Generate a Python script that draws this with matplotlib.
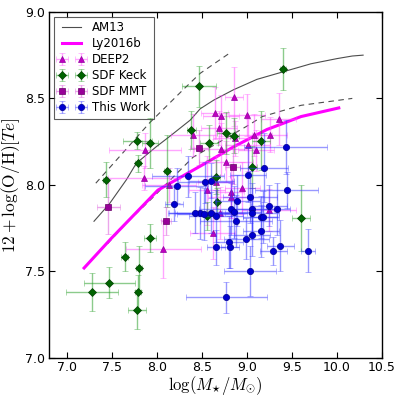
import numpy as np
import matplotlib
matplotlib.use("Agg")
import matplotlib.pyplot as plt

plt.rcParams['mathtext.fontset'] = 'cm'
plt.rcParams['font.family'] = ['DejaVu Sans']

# ---- curves ----
am13_x = [7.30, 7.47, 7.66, 7.77, 7.99, 8.14, 8.37, 8.48, 8.63, 8.85, 9.11, 9.41, 9.71, 10.0, 10.17, 10.29]
am13_y = [7.79, 7.89, 8.03, 8.125, 8.22, 8.28, 8.375, 8.44, 8.49, 8.55, 8.61, 8.655, 8.70, 8.73, 8.745, 8.75]
am13_up_x = [7.32, 7.92, 8.29, 8.48, 8.83]
am13_up_y = [8.01, 8.36, 8.55, 8.645, 8.77]
am13_lo_x = [7.45, 7.66, 7.92, 8.40, 9.0, 9.17, 9.60, 10.17]
am13_lo_y = [7.66, 7.78, 7.91, 8.16, 8.34, 8.395, 8.46, 8.50]
ly_x = [7.19, 7.49, 8.01, 8.57, 8.85, 9.22, 9.60, 10.02]
ly_y = [7.52, 7.69, 7.97, 8.135, 8.22, 8.32, 8.395, 8.445]

# ---- DEEP2 ----
deep2_x = [7.87, 7.85, 8.13, 8.07, 8.64, 8.71, 8.40, 8.69, 8.62, 8.86, 9.00, 9.35, 8.87, 9.08,
           9.25, 8.71, 9.01, 9.10, 8.77, 8.56, 8.82, 8.82, 8.95, 9.24, 8.70, 8.66]
deep2_y = [8.20, 8.04, 8.00, 7.63, 8.415, 8.40, 8.29, 8.33, 7.72, 8.51, 8.405, 8.38, 8.27, 8.29,
           8.29, 8.21, 8.23, 8.20, 8.135, 7.97, 7.96, 7.93, 7.98, 7.855, 7.84, 8.015]
deep2_xerr = [0.40, 0.40, 0.30, 0.42, 0.15, 0.20, 0.25, 0.20, 0.25, 0.10, 0.20, 0.20, 0.25, 0.20,
              0.20, 0.30, 0.25, 0.20, 0.30, 0.20, 0.15, 0.25, 0.20, 0.30, 0.25, 0.20]
deep2_yerr = [0.10, 0.07, 0.10, 0.17, 0.15, 0.12, 0.12, 0.10, 0.15, 0.17, 0.12, 0.15, 0.10, 0.12,
              0.10, 0.15, 0.15, 0.12, 0.12, 0.20, 0.15, 0.12, 0.15, 0.12, 0.15, 0.15]

# ---- SDF Keck ----
keck_x = [7.28, 7.47, 7.64, 7.80, 7.79, 7.78, 7.92, 7.43, 7.78, 7.92, 7.79, 8.11, 8.38, 8.47,
          8.58, 8.77, 8.86, 8.65, 8.67, 8.56, 9.15, 9.06, 9.60, 9.40]
keck_y = [7.38, 7.435, 7.585, 7.52, 7.38, 7.28, 7.695, 8.03, 8.255, 8.24, 8.125, 8.08, 8.32, 8.57,
          8.245, 8.30, 8.285, 8.045, 7.90, 7.82, 8.255, 8.105, 7.81, 8.67]
keck_xerr = [0.29, 0.28, 0.04, 0.03, 0.03, 0.10, 0.07, 0.03, 0.16, 0.09, 0.03, 0.03, 0.05, 0.19,
             0.10, 0.10, 0.05, 0.05, 0.03, 0.03, 0.10, 0.05, 0.10, 0.03]
keck_yerr = [0.11, 0.09, 0.085, 0.125, 0.10, 0.11, 0.08, 0.10, 0.05, 0.145, 0.05, 0.21, 0.11, 0.12,
             0.10, 0.12, 0.10, 0.10, 0.08, 0.08, 0.17, 0.12, 0.19, 0.12]

# ---- SDF MMT ----
mmt_x = [7.46, 8.10, 8.47, 8.84]
mmt_y = [7.875, 7.79, 8.215, 8.105]
mmt_xerr = [0.13, 0.05, 0.10, 0.08]
mmt_yerr = [0.16, 0.08, 0.10, 0.10]

# ---- This Work ----
tw_x = [8.34, 8.22, 8.19, 8.53, 8.60, 8.48, 8.52, 8.60, 8.65, 9.43, 9.19, 9.01, 9.44, 9.03, 8.89,
        9.24, 9.33, 8.82, 8.85, 9.05, 9.05, 9.15, 9.18, 8.88, 9.06, 9.15, 8.99, 8.80, 8.65, 8.81,
        9.37, 9.29, 9.68, 9.03, 8.77, 8.42]
tw_y = [8.05, 7.995, 7.89, 8.015, 8.025, 7.84, 7.83, 7.84, 7.82, 8.22, 8.10, 8.06, 7.97, 7.93, 7.91,
        7.88, 7.86, 7.86, 7.845, 7.86, 7.835, 7.815, 7.815, 7.79, 7.71, 7.735, 7.69, 7.67, 7.64, 7.64,
        7.65, 7.62, 7.62, 7.505, 7.35, 7.84]
tw_xerr = [0.40, 0.35, 0.10, 0.30, 0.25, 0.35, 0.30, 0.40, 0.30, 0.46, 0.27, 0.20, 0.35, 0.30, 0.25,
           0.20, 0.15, 0.35, 0.30, 0.25, 0.30, 0.20, 0.15, 0.40, 0.20, 0.20, 0.25, 0.15, 0.10, 0.10,
           0.15, 0.15, 0.08, 0.29, 0.45, 0.30]
tw_yerr = [0.12, 0.10, 0.10, 0.12, 0.10, 0.15, 0.15, 0.12, 0.15, 0.155, 0.20, 0.16, 0.106, 0.15, 0.15,
           0.12, 0.15, 0.15, 0.15, 0.15, 0.15, 0.12, 0.15, 0.15, 0.12, 0.15, 0.12, 0.15, 0.10, 0.12,
           0.15, 0.08, 0.125, 0.145, 0.09, 0.12]

fig = plt.figure(figsize=(4.0, 3.96), dpi=100)
ax = fig.add_axes([0.1225, 0.096, 0.8325, 0.874])

ax.plot(am13_x, am13_y, color='0.3', lw=0.8, label='AM13', zorder=3)
ax.plot(am13_up_x, am13_up_y, color='0.3', lw=0.8, ls=(0, (5, 4)), zorder=3)
ax.plot(am13_lo_x, am13_lo_y, color='0.3', lw=0.8, ls=(0, (5, 4)), zorder=3)
ax.plot(ly_x, ly_y, color='#ff00ff', lw=2.2, label='Ly2016b', zorder=4)

common = dict(ls='none', capsize=2.5, elinewidth=1.0, capthick=1.0)
ax.errorbar(deep2_x, deep2_y, xerr=deep2_xerr, yerr=deep2_yerr, fmt='^', ms=4,
            mfc='#c000c0', mec='#9000a0', mew=0.5, ecolor=(1.0, 0.3, 1.0, 0.5),
            label='DEEP2', zorder=5, **common)
ax.errorbar(keck_x, keck_y, xerr=keck_xerr, yerr=keck_yerr, fmt='D', ms=4.5,
            mfc='#006400', mec='#004000', mew=0.5, ecolor=(0.1, 0.6, 0.1, 0.5),
            label='SDF Keck', zorder=6, **common)
ax.errorbar(mmt_x, mmt_y, xerr=mmt_xerr, yerr=mmt_yerr, fmt='s', ms=5,
            mfc='#990099', mec='#660066', mew=0.5, ecolor=(0.85, 0.3, 0.85, 0.5),
            label='SDF MMT', zorder=6, **common)
ax.errorbar(tw_x, tw_y, xerr=tw_xerr, yerr=tw_yerr, fmt='o', ms=4.5,
            mfc='#0000d0', mec='#000090', mew=0.5, ecolor=(0.2, 0.2, 1.0, 0.5),
            label='This Work', zorder=7, **common)

ax.set_xlim(6.8, 10.5)
ax.set_ylim(7.0, 9.0)
ax.set_xticks(np.arange(7.0, 10.51, 0.5))
ax.set_yticks(np.arange(7.0, 9.01, 0.5))
ax.set_xticklabels(['%.1f' % v for v in np.arange(7.0, 10.51, 0.5)])
ax.set_yticklabels(['%.1f' % v for v in np.arange(7.0, 9.01, 0.5)])
ax.tick_params(direction='in', top=True, right=True, labelsize=9, length=4, width=0.8, pad=3)
ax.tick_params(axis='x', pad=2)
for s in ax.spines.values():
    s.set_linewidth(1.0)

ax.set_xlabel(r'$\log(M_{\star}/M_{\odot})$', fontsize=12, labelpad=0)
ax.set_ylabel(r'$12+\log({\rm O/H})[Te]$', fontsize=12.5, labelpad=2)

leg = ax.legend(loc='upper left', numpoints=2, fontsize=8.5, fancybox=False,
                frameon=True, borderpad=0.4, labelspacing=0.25, handlelength=2.2,
                handletextpad=0.6, borderaxespad=0.4)
leg.get_frame().set_edgecolor('0.2')
leg.get_frame().set_linewidth(0.8)

fig.savefig('out.png', dpi=100)
